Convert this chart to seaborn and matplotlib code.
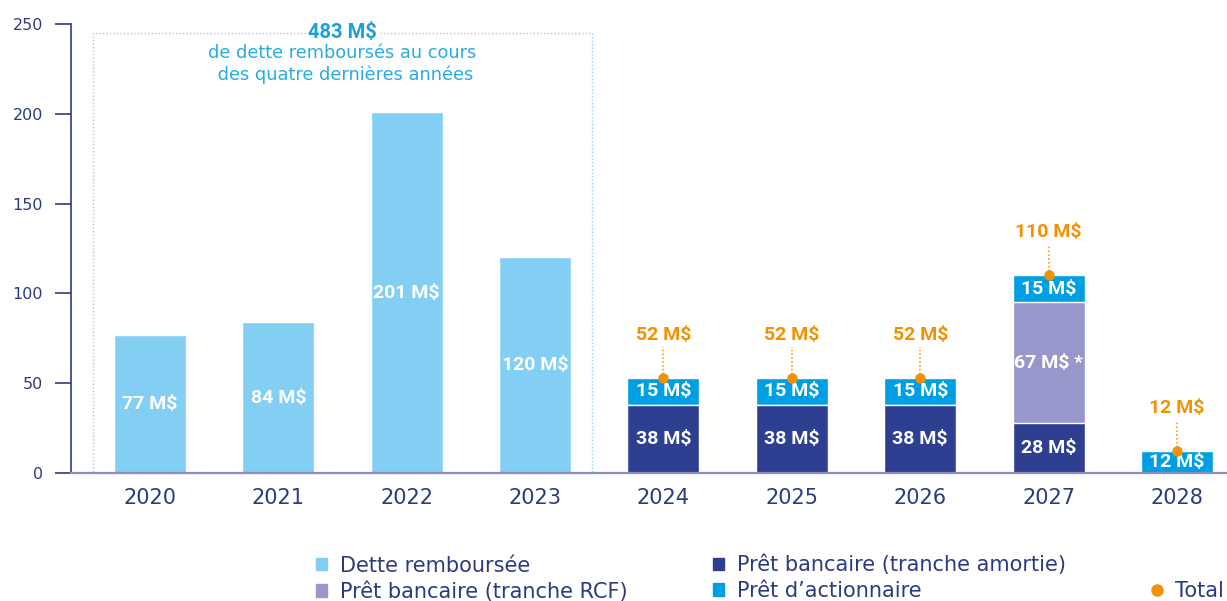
import matplotlib
matplotlib.use("Agg")
import matplotlib.pyplot as plt
import seaborn as sns
import pandas as pd
import numpy as np
from matplotlib.patches import Patch, Rectangle
from matplotlib.lines import Line2D
from matplotlib import font_manager as fm

years = ['2020', '2021', '2022', '2023', '2024', '2025', '2026', '2027', '2028']
dette = [77, 84, 201, 120, 0, 0, 0, 0, 0]
amortie = [0, 0, 0, 0, 38, 38, 38, 28, 0]
rcf = [0, 0, 0, 0, 0, 0, 0, 67, 0]
actionnaire = [0, 0, 0, 0, 15, 15, 15, 15, 12]
total_years = ['2024', '2025', '2026', '2027', '2028']
total_labels = [52, 52, 52, 110, 12]
yticks = [0, 50, 100, 150, 200, 250]
box_title = "483 M$"
box_text = "de dette remboursés au cours\n des quatre dernières années"

C_DETTE = "#82cff3"
C_AMORT = "#2e3f91"
C_RCF = "#9797cb"
C_ACT = "#009fe3"
C_TOT = "#f39200"
C_NAVY = "#2d3a80"
C_BASE = "#8a90c0"

sns.set_theme(style="white")
avail = {f.name for f in fm.fontManager.ttflist}
reg_font = "DejaVu Sans"
bold_font = "Liberation Sans Narrow" if "Liberation Sans Narrow" in avail else "Roboto"
plt.rcParams['font.family'] = [reg_font]

df = pd.DataFrame({"year": years, "dette": dette, "amortie": amortie,
                   "rcf": rcf, "actionnaire": actionnaire})
df["c1"] = df["amortie"]
df["c2"] = df["c1"] + df["rcf"]
df["c3"] = df["c2"] + df["actionnaire"]

fig = plt.figure(figsize=(12.27, 6.01), dpi=100)
ax = fig.add_axes([71/1227, (601-473)/601, 1 - 71/1227, (473-24)/601])

W = 0.56
sns.barplot(data=df, x="year", y="dette", order=years, color=C_DETTE, width=W,
            saturation=1, ax=ax, errorbar=None)
sns.barplot(data=df, x="year", y="c3", order=years, color=C_ACT, width=W,
            saturation=1, ax=ax, errorbar=None)
sns.barplot(data=df, x="year", y="c2", order=years, color=C_RCF, width=W,
            saturation=1, ax=ax, errorbar=None)
sns.barplot(data=df, x="year", y="c1", order=years, color=C_AMORT, width=W,
            saturation=1, ax=ax, errorbar=None)

lab_kw = dict(ha="center", va="center", color="white", fontsize=14,
              fontweight="bold", family=[bold_font, 'DejaVu Sans'])
for i, y in enumerate(years):
    if dette[i] > 0:
        ax.text(i, dette[i] / 2, f"{dette[i]} M$", **lab_kw)
    b = 0
    for vals, suffix in [(amortie, ""), (rcf, " *"), (actionnaire, "")]:
        v = vals[i]
        if v > 0:
            ax.text(i, b + v / 2, f"{v} M${suffix}", **lab_kw)
            b += v

# totals
for y, t in zip(total_years, total_labels):
    i = years.index(y)
    top = df.loc[i, "c3"]
    ax.plot([i, i], [top, top + 17], ls=(0, (1, 1.5)), color=C_TOT, lw=1.1,
            zorder=4)
    ax.plot([i], [top], marker="o", ms=6.5, color=C_TOT, zorder=5)
    ax.text(i, top + 24, f"{t} M$", ha="center", va="center", color=C_TOT,
            fontsize=14, fontweight="bold", family=[bold_font, 'DejaVu Sans'])

# dotted box
rect = Rectangle((-0.444, 0), 3.888, 245, fill=False, ls=(0, (1, 1.5)),
                 ec="#8fd3f1", lw=1.0, zorder=0.5, clip_on=False)
ax.add_patch(rect)
ax.text(1.5, 245, box_title, ha="center", va="center", color="#1ba0de",
        fontsize=14.5, fontweight="bold", family=[bold_font, 'DejaVu Sans'],
        bbox=dict(facecolor="white", edgecolor="none", pad=1.5), zorder=3)
ax.text(1.5, 227.5, box_text, ha="center", va="center", color="#29abe2",
        fontsize=12.8, linespacing=1.25)

ax.set_xlim(-0.615, 8.39)
ax.set_ylim(0, 250)
ax.set_yticks(yticks)
ax.set_yticklabels([str(v) for v in yticks])
ax.set_xlabel("")
ax.set_ylabel("")
for s in ["top", "right"]:
    ax.spines[s].set_visible(False)
ax.spines["left"].set_color(C_NAVY)
ax.spines["left"].set_linewidth(1.2)
ax.spines["bottom"].set_color(C_BASE)
ax.spines["bottom"].set_linewidth(1.6)
ax.tick_params(axis="y", length=11.5, width=1.2, color=C_NAVY, pad=8.5,
               labelsize=11.5, labelcolor=C_NAVY, left=True)
ax.tick_params(axis="x", length=0, pad=11, labelsize=15, labelcolor=C_NAVY)

handles = [
    Patch(color=C_DETTE, label="Dette remboursée"),
    Patch(color=C_RCF, label="Prêt bancaire (tranche RCF)"),
    Patch(color=C_AMORT, label="Prêt bancaire (tranche amortie)"),
    Patch(color=C_ACT, label="Prêt d’actionnaire"),
    Patch(color="none", label=" "),
    Line2D([], [], marker="o", ls="none", color=C_TOT, ms=8, label="Total"),
]
leg = fig.legend(handles=handles, ncol=3, loc="upper left",
                 bbox_to_anchor=(316/1227, (601-555)/601), frameon=False,
                 fontsize=15, handlelength=0.55, handleheight=0.55,
                 handletextpad=0.6, columnspacing=4.1, labelspacing=0.27,
                 borderpad=0, borderaxespad=0)
for t in leg.get_texts():
    t.set_color(C_NAVY)

fig.savefig("out.png", dpi=100)
